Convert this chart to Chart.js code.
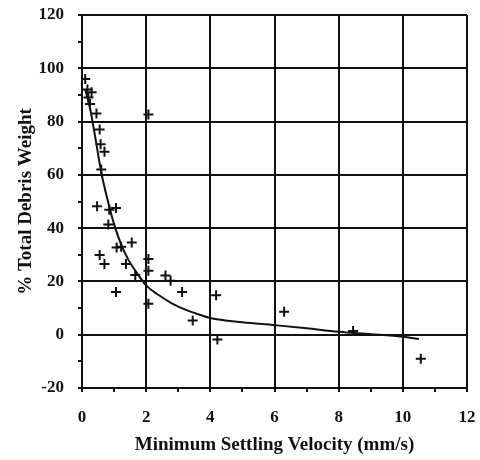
<!DOCTYPE html>
<html>
<head>
<meta charset="utf-8">
<script src="https://cdn.jsdelivr.net/npm/chart.js@4.4.0/dist/chart.umd.min.js"></script>
<style>
  body { margin: 0; background: #fff; }
  #wrap { width: 480px; height: 460px; }
</style>
</head>
<body>
<div id="wrap"><canvas id="myChart" width="480" height="460"></canvas></div>
<script>
  // measured points (velocity mm/s, % weight)
  const velX = [0.1, 0.17, 0.3, 0.2, 0.25, 0.45, 0.55, 0.58, 0.7, 0.6, 0.47, 0.85, 1.06, 0.82,
    1.55, 1.08, 1.22, 0.55, 0.7, 1.37, 1.66, 1.06, 2.07, 2.07, 2.07, 2.07, 2.6, 2.76, 3.12,
    3.45, 4.18, 4.22, 6.3, 8.45, 10.56];
  const pctY = [96, 92, 91, 89, 86.6, 83, 77, 71.5, 68.7, 62, 48.2, 46.9, 47.6, 41.4,
    34.6, 32.7, 33, 29.9, 26.5, 26.5, 22.4, 16, 82.7, 28.4, 24, 11.6, 22.2, 20.3, 16,
    5.3, 14.8, -1.8, 8.6, 1.4, -9];

  // fitted curve
  const curveX = [0.1, 0.25, 0.4, 0.6, 0.8, 1.0, 1.2, 1.45, 1.7, 2.0, 2.4, 2.8, 3.2, 3.6, 4.0,
    5.0, 6.0, 7.0, 8.0, 9.0, 10.0, 10.5];
  const curveY = [92, 85, 75, 61, 50.5, 41.5, 34.5, 28, 23.4, 18.5, 14.8, 11.8, 9.5, 7.8, 6.3,
    4.7, 3.6, 2.4, 1.1, 0.2, -0.8, -1.6];

  const font = { family: 'Liberation Serif', weight: 'bold', size: 17 };
  const titleFont = { family: 'Liberation Serif', weight: 'bold', size: 19 };

  const pts = velX.map((x, i) => ({ x: x, y: pctY[i] }));
  const curve = curveX.map((x, i) => ({ x: x, y: curveY[i] }));

  const ctx = document.getElementById('myChart');
  new Chart(ctx, {
    type: 'scatter',
    data: {
      datasets: [{
        data: pts,
        pointStyle: 'cross',
        pointRadius: 5,
        pointBorderWidth: 2,
        borderColor: '#111',
        backgroundColor: '#111'
      }, {
        type: 'line',
        data: curve,
        borderColor: '#111',
        borderWidth: 2,
        pointRadius: 0,
        fill: false,
        cubicInterpolationMode: 'monotone'
      }]
    },
    options: {
      responsive: false,
      animation: false,
      layout: { padding: { top: 15, right: 13, left: 11, bottom: 0 } },
      plugins: { legend: { display: false }, tooltip: { enabled: false } },
      scales: {
        x: {
          type: 'linear', min: 0, max: 12,
          ticks: {
            stepSize: 1, autoSkip: false, color: '#111', font: font, padding: 15,
            callback: v => (v % 2 === 0 ? v : '')
          },
          grid: {
            color: c => (c.tick && c.tick.value % 2 === 0 ? '#111' : 'rgba(0,0,0,0)'),
            tickColor: '#111', lineWidth: 2, tickLength: 4
          },
          border: { color: '#111', width: 2 },
          title: { display: true, text: 'Minimum Settling Velocity (mm/s)', color: '#111', font: titleFont, padding: { top: 0, bottom: 4 } },
          afterFit: s => { s.height = 72; s.paddingLeft = 0; s.paddingRight = 0; }
        },
        y: {
          min: -20, max: 120,
          ticks: {
            stepSize: 10, autoSkip: false, color: '#111', font: font, padding: 14,
            callback: v => (v % 20 === 0 ? v : '')
          },
          grid: {
            color: c => (c.tick && c.tick.value % 20 === 0 ? '#111' : 'rgba(0,0,0,0)'),
            tickColor: '#111', lineWidth: 2, tickLength: 4
          },
          border: { color: '#111', width: 2 },
          title: { display: true, text: '% Total Debris Weight', color: '#111', font: titleFont, padding: { top: 4, bottom: 4 } },
          afterFit: s => { s.width = 71; s.paddingTop = 0; s.paddingBottom = 0; }
        }
      }
    }
  });
</script>
</body>
</html>
